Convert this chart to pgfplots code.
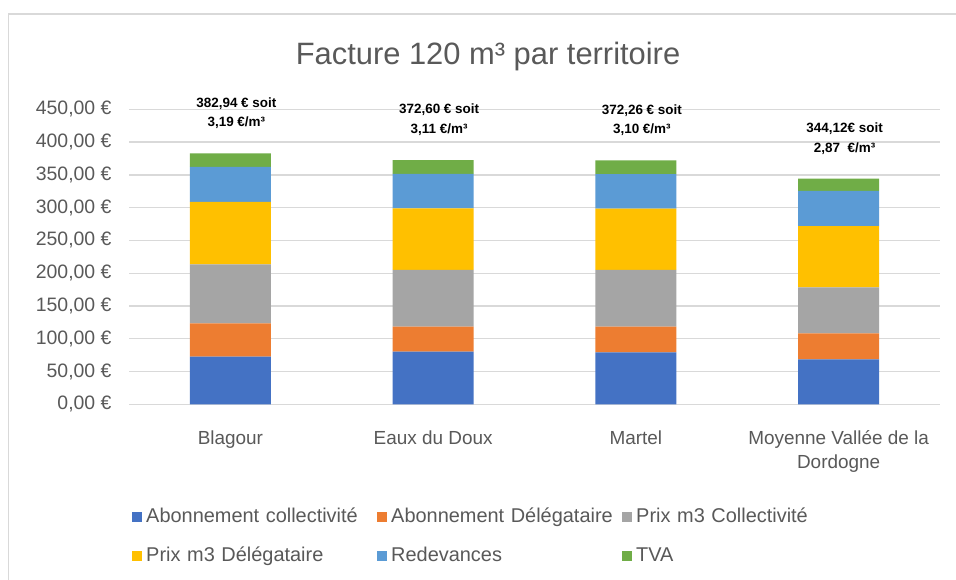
\documentclass[border=0pt]{standalone}
\usepackage{fontspec}
\setmainfont{Liberation Sans}
\usepackage{pgfplots}
\pgfplotsset{compat=1.18}
\definecolor{cA}{HTML}{4472C4}
\definecolor{cB}{HTML}{ED7D31}
\definecolor{cC}{HTML}{A5A5A5}
\definecolor{cD}{HTML}{FFC000}
\definecolor{cE}{HTML}{5B9BD5}
\definecolor{cF}{HTML}{70AD47}
\definecolor{txt}{HTML}{595959}
\definecolor{gridc}{HTML}{D9D9D9}
\begin{document}
\begin{tikzpicture}
\useasboundingbox (0,0) rectangle (956bp,580bp);
\fill[white] (0,0) rectangle (956bp,580bp);
\draw[gridc, line width=1.2bp] (8.5bp,-5bp) -- (8.5bp,566bp) -- (965bp,566bp);
\node[text=txt, font=\fontsize{31}{36}\selectfont, inner sep=0pt] at (488bp,523bp) {Facture 120 m³ par territoire};
\begin{axis}[
  at={(129bp,175.7bp)}, anchor=south west,
  scale only axis, width=811bp, height=295bp,
  xmin=-0.5, xmax=3.5, ymin=0, ymax=450,
  ybar stacked, bar width=81bp,
  clip=false,
  axis line style={draw=none},
  major tick length=0pt,
  xtick={0,1,2,3},
  xticklabels={Blagour, Eaux du Doux, Martel, {Moyenne Vallée de la\\Dordogne}},
  xticklabel style={align=center, text=txt, font=\fontsize{19}{24}\selectfont, yshift=-23bp},
  ytick={0,50,...,450},
  ymajorgrids,
  grid style={gridc, line width=1.3bp},
  /pgf/number format/assume math mode=true,
  yticklabel={\pgfmathprintnumber{\tick}~€},
  yticklabel style={text=txt, font=\fontsize{19.5}{23}\selectfont, xshift=-14bp,
    /pgf/number format/.cd, fixed, fixed zerofill, precision=2, use comma, 1000 sep={}},
  legend columns=3,
  legend image code/.code={\fill[#1] (0bp,-5bp) rectangle (10bp,5bp);},
  legend style={at={(0.004,-0.345)}, anchor=north west, draw=none, inner sep=0pt, outer sep=0pt,
    font=\fontsize{20}{24}\selectfont, text=txt, row sep=17bp,
    nodes={text width=227bp, align=left, text height=14bp, text depth=4bp, inner xsep=4bp},
    cells={anchor=west}},
]
\addplot[fill=cA, draw=none] coordinates {(0,72.6) (1,80.2) (2,79.3) (3,68.6)};
\addplot[fill=cB, draw=none] coordinates {(0,50.9) (1,38.1) (2,39.0) (3,39.6)};
\addplot[fill=cC, draw=none] coordinates {(0,89.9) (1,86.9) (2,86.9) (3,70.1)};
\addplot[fill=cD, draw=none] coordinates {(0,95.4) (1,93.6) (2,93.1) (3,93.5)};
\addplot[fill=cE, draw=none] coordinates {(0,53.4) (1,52.7) (2,52.7) (3,53.8)};
\addplot[fill=cF, draw=none] coordinates {(0,20.74) (1,21.1) (2,21.26) (3,18.52)};
\legend{Abonnement collectivité, Abonnement Délégataire, Prix m3 Collectivité, Prix m3 Délégataire, Redevances, TVA}
\tikzset{ann/.style={anchor=south, align=center, inner sep=0pt, font=\bfseries\fontsize{13.5}{20}\selectfont, yshift=24bp, xshift=6bp}}
\node[ann] at (axis cs:0,382.94) {382,94 € soit\\3,19 €/m³};
\node[ann] at (axis cs:1,372.60) {372,60 € soit\\3,11 €/m³};
\node[ann] at (axis cs:2,372.26) {372,26 € soit\\3,10 €/m³};
\node[ann] at (axis cs:3,344.12) {344,12€ soit\\2,87\ \ €/m³};
\end{axis}
\end{tikzpicture}
\end{document}
